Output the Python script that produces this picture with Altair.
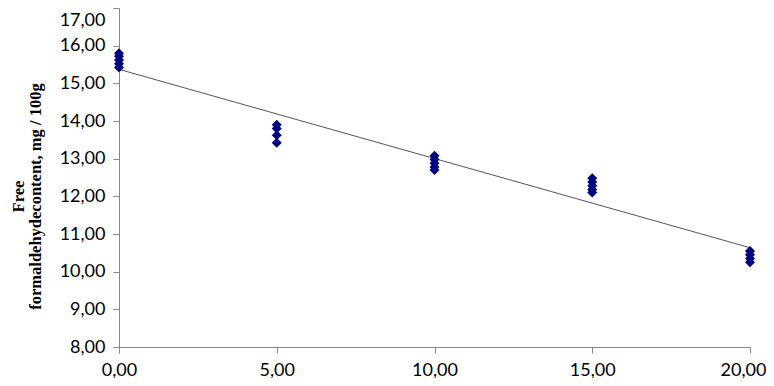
import altair as alt
import pandas as pd

x_vals = [0, 0, 0, 0, 0,
          5, 5, 5, 5,
          10, 10, 10, 10, 10,
          15, 15, 15, 15, 15,
          20, 20, 20, 20]
y_vals = [15.42, 15.52, 15.62, 15.72, 15.8,
          13.9, 13.8, 13.62, 13.42,
          13.08, 12.98, 12.88, 12.78, 12.7,
          12.48, 12.38, 12.28, 12.18, 12.1,
          10.55, 10.45, 10.35, 10.25]
x_ticks = [0, 5, 10, 15, 20]
y_ticks = [8, 9, 10, 11, 12, 13, 14, 15, 16, 17]
y_title = ["Free", "formaldehydecontent, mg / 100g"]

df = pd.DataFrame({"x": x_vals, "y": y_vals})

fmt = "replace(format(datum.value, '.2f'), '.', ',')"

xenc = alt.X("x:Q", scale=alt.Scale(domain=[0, 20], nice=False),
             axis=alt.Axis(values=x_ticks, labelExpr=fmt, title=None,
                           grid=False, tickSize=6, labelPadding=8, labelOverlap=False,
                           labelFlush=False,
                           labelOffset={"condition": {"test": "datum.value == 20", "value": -7},
                                        "value": 0},
                           labelFont="Lato", labelFontSize=18,
                           labelColor="black", domainColor="#888", tickColor="#888"))
yenc = alt.Y("y:Q", scale=alt.Scale(domain=[8, 17], nice=False, zero=False),
             axis=alt.Axis(values=y_ticks, labelExpr=fmt,
                           labelBaseline={"condition": {"test": "datum.value == 17", "value": "top"},
                                          "value": "middle"},
                           labelOffset={"condition": {"test": "datum.value == 17", "value": 3},
                                        "value": 0},
                           title=y_title,
                           titleFont="Liberation Serif", titleFontSize=16.5,
                           titleFontWeight="bold", titleColor="black",
                           titleX=-109, titleY=188, titleBaseline="top",
                           titleLineHeight=17, titleAngle=-90, titleAlign="center",
                           grid=False, tickSize=6, labelPadding=8, labelOverlap=False,
                           labelFlush=False,
                           labelFont="Lato", labelFontSize=18,
                           labelColor="black", domainColor="#888", tickColor="#888"))

base = alt.Chart(df)

points = base.mark_point(shape="diamond", filled=True, size=100,
                         color="#000080", opacity=1)

line = base.transform_regression("x", "y", extent=[0, 20]).mark_line(
    color="#555555", strokeWidth=1)

chart = alt.layer(line, points).encode(x=xenc, y=yenc).properties(
    width=631, height=339,
    autosize=alt.AutoSizeParams(type="none"),
    padding={"left": 111, "top": 0, "right": 16, "bottom": 31},
).configure(background="white").configure_view(stroke=None)

chart.save("out.html", embed_options={"renderer": "svg", "actions": False})
